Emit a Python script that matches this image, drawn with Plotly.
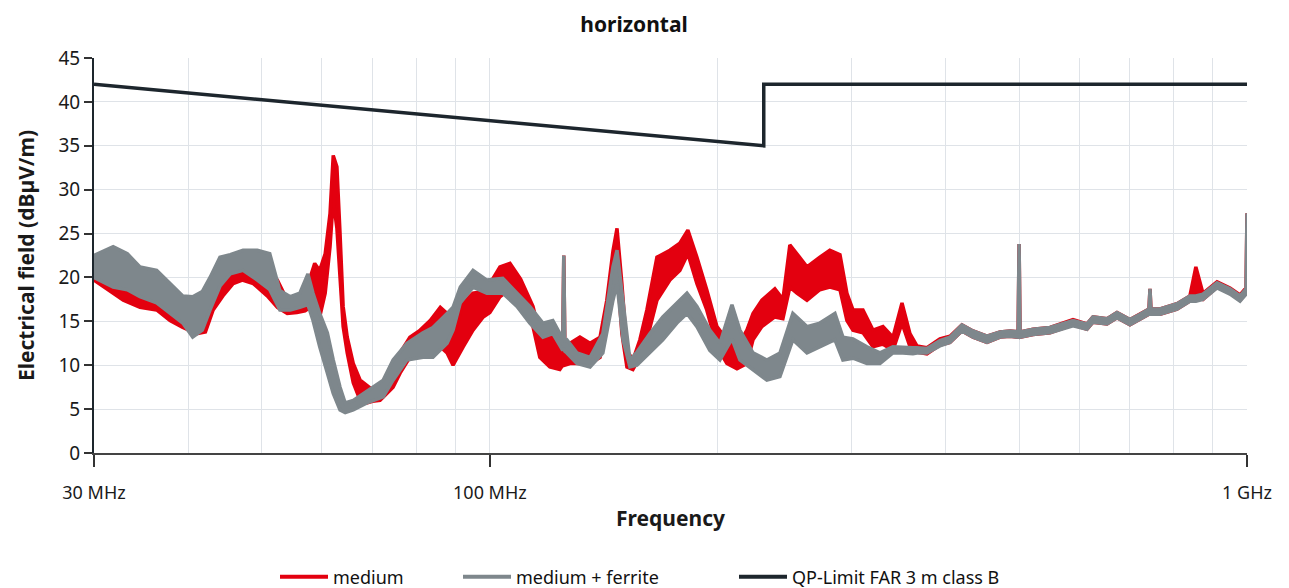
import plotly.graph_objects as go
import math

# ---------------- data (MHz, dBµV/m) ----------------
# "medium" (red) envelope
med_f = [30.0, 31.5, 32.8, 34.5, 36.3, 37.8, 39.3, 41.0, 42.1, 43.1, 44.4, 45.8, 47.1, 48.7,
         50.8, 52.4, 54.0, 55.6, 57.0, 57.9, 58.7, 59.6, 60.6, 61.5, 62.1, 62.8, 63.4, 64.0,
         64.8, 66.0, 67.4, 68.8, 70.0, 71.6, 74.5, 76.1, 78.4, 80.9, 83.4, 86.0, 87.8, 89.4,
         92.2, 95.0, 98.0, 100.0, 103.1, 106.3, 109.8, 114.0, 116.4, 120.0, 123.7, 124.8,
         125.2, 125.6, 127.6, 131.5, 135.6, 139.8, 142.7, 145.4, 147.2, 149.4, 151.7, 154.5,
         157.8, 161.2, 166.2, 172.9, 178.2, 182.6, 187.7, 193.4, 199.5, 205.6, 212.0, 218.5,
         222.6, 228.7, 237.9, 243.8, 249.0, 254.4, 262.3, 272.8, 281.2, 290.0, 296.2, 301.7,
         311.0, 320.6, 330.5, 340.7, 350.2, 358.8, 366.5, 377.8, 393.0, 405.2, 420.2, 434.6,
         453.5, 471.9, 486.5, 498.5, 500.0, 501.5, 521.7, 549.3, 589.1, 614.7, 626.0, 653.3,
         673.4, 700.5, 722.2, 742.2, 744.5, 746.7, 767.6, 808.4, 840.6, 856.0, 874.6, 912.9,
         949.6, 979.0, 997.0, 1000.0]
med_hi = [22.3, 20.8, 19.7, 18.9, 19.3, 18.5, 17.4, 16.3, 17.0, 18.9, 20.2, 20.8, 21.2, 21.0,
          20.2, 19.7, 17.4, 17.0, 17.3, 20.0, 21.6, 20.8, 22.7, 27.3, 33.9, 32.6, 25.0, 16.7,
          13.2, 10.2, 8.3, 7.7, 7.2, 7.7, 9.8, 11.4, 13.2, 14.0, 15.1, 16.6, 15.9, 13.0,
          17.1, 18.2, 18.4, 19.3, 21.2, 21.6, 19.8, 16.7, 13.6, 13.2, 13.2, 12.5,
          22.5, 12.5, 12.5, 13.2, 12.5, 13.2, 17.4, 23.0, 25.6, 19.3, 11.7, 10.6,
          12.9, 16.3, 22.3, 23.1, 23.9, 25.4, 22.3, 18.6, 14.4, 12.9, 12.0, 14.0,
          15.9, 17.4, 18.7, 17.5, 23.7, 22.7, 21.2, 22.3, 23.1, 22.6, 18.2, 16.3,
          16.3, 14.0, 14.4, 13.2, 17.1, 13.6, 12.2, 12.0, 13.0, 13.3, 14.6, 13.9,
          13.3, 13.8, 13.9, 13.8, 23.8, 13.8, 14.1, 14.3, 15.2, 14.7, 15.5, 15.3,
          16.0, 15.2, 15.8, 16.4, 18.7, 16.4, 16.4, 17.0, 17.9, 21.2, 18.2, 19.5,
          18.8, 18.0, 18.8, 27.3]
med_lo = [19.7, 18.5, 17.4, 16.6, 16.3, 15.1, 14.3, 13.6, 13.8, 16.3, 17.9, 19.3, 19.7, 19.3,
          17.9, 16.6, 15.9, 16.0, 16.2, 16.6, 17.9, 15.5, 18.2, 23.5, 28.8, 25.6, 19.7, 14.4,
          11.4, 8.0, 6.0, 5.7, 5.9, 6.0, 7.5, 9.1, 10.9, 11.1, 11.7, 12.1, 11.4, 10.0,
          12.1, 14.0, 15.5, 16.0, 17.8, 18.7, 16.8, 14.4, 10.9, 9.8, 9.5, 10.0,
          12.0, 10.0, 10.2, 10.2, 10.2, 10.9, 14.4, 18.5, 21.2, 13.6, 9.8, 9.5,
          10.9, 12.9, 17.4, 19.7, 20.8, 22.7, 19.3, 16.3, 12.1, 10.2, 9.6, 10.2,
          12.9, 14.4, 15.5, 15.3, 18.9, 18.2, 17.4, 18.6, 18.9, 18.6, 15.1, 14.0,
          13.7, 12.1, 12.4, 11.7, 14.8, 12.1, 11.5, 11.3, 12.3, 12.6, 13.9, 13.2,
          12.6, 13.2, 13.3, 13.2, 13.5, 13.2, 13.5, 13.7, 14.6, 14.1, 14.9, 14.7,
          15.4, 14.6, 15.2, 15.8, 16.0, 15.8, 15.8, 16.4, 17.3, 17.8, 17.5, 18.9,
          18.2, 17.4, 18.2, 18.5]

# "medium + ferrite" (grey) envelope
fer_f = [30.0, 31.8, 33.2, 34.5, 36.3, 37.8, 39.3, 40.5, 41.7, 42.7, 44.0, 45.4, 47.2, 49.3,
         51.2, 52.8, 54.5, 56.1, 57.5, 58.4, 59.6, 61.0, 62.1, 63.4, 64.4, 66.0, 68.8, 72.3,
         74.5, 77.7, 81.6, 84.1, 87.8, 89.4, 91.4, 95.0, 99.1, 104.0, 108.6, 112.9, 117.5,
         121.1, 124.8, 125.2, 125.6, 126.4, 130.3, 135.6, 141.0, 145.4, 147.2, 149.9, 153.1,
         156.4, 162.7, 169.2, 176.6, 182.1, 187.7, 195.2, 201.3, 208.8, 213.9, 222.6, 232.2,
         241.6, 251.3, 262.3, 272.8, 285.6, 292.6, 301.7, 314.8, 327.5, 340.7, 351.2, 362.0,
         366.5, 377.8, 393.0, 405.2, 420.2, 434.6, 453.5, 471.9, 486.5, 498.5, 500.0, 501.5,
         521.7, 549.3, 589.1, 614.7, 626.0, 653.3, 673.4, 700.5, 722.2, 742.2, 744.5, 746.7,
         767.6, 808.4, 840.6, 856.0, 874.6, 912.9, 949.6, 979.0, 997.0, 1000.0]
fer_hi = [22.5, 23.5, 22.7, 21.2, 20.8, 19.3, 17.9, 17.8, 18.4, 20.0, 22.3, 22.6, 23.1, 23.1,
          22.7, 18.5, 17.8, 18.2, 20.4, 18.2, 15.9, 13.7, 10.6, 7.5, 5.7, 6.0, 7.0, 8.3,
          10.6, 12.5, 13.7, 14.3, 15.9, 16.6, 18.9, 20.8, 19.7, 19.9, 18.2, 16.7, 14.8,
          15.1, 13.0, 22.5, 12.8, 12.9, 11.4, 10.9, 13.6, 21.2, 23.1, 17.4, 10.6,
          11.5, 13.6, 15.5, 17.1, 18.2, 16.7, 14.0, 12.5, 16.9, 14.0, 11.4, 10.6,
          11.4, 15.9, 14.4, 14.8, 15.9, 13.2, 13.0, 12.1, 11.4, 12.1, 12.0, 12.0,
          12.0, 11.9, 12.8, 13.2, 14.6, 13.9, 13.3, 13.8, 13.9, 13.8, 23.8, 13.8,
          14.1, 14.3, 15.1, 14.7, 15.5, 15.3, 16.0, 15.2, 15.8, 16.4, 18.7, 16.4,
          16.4, 17.0, 17.9, 17.9, 18.1, 19.4, 18.7, 17.9, 18.7, 27.3]
fer_lo = [20.0, 18.9, 18.6, 17.8, 17.1, 15.9, 14.8, 13.2, 14.0, 16.3, 19.0, 20.4, 20.8, 19.7,
          18.6, 16.3, 16.3, 16.6, 16.9, 15.1, 12.1, 9.1, 6.8, 4.9, 4.6, 4.9, 5.7, 6.4,
          8.3, 10.6, 10.9, 10.9, 12.5, 14.0, 17.1, 18.9, 18.2, 18.2, 16.7, 14.8, 13.2,
          13.6, 11.7, 12.0, 11.6, 11.4, 10.2, 9.8, 11.4, 17.4, 19.3, 12.9, 9.8,
          10.0, 11.4, 12.9, 14.8, 15.9, 14.4, 11.7, 10.6, 13.0, 10.6, 9.5, 8.3,
          8.7, 12.9, 11.4, 12.1, 12.9, 10.6, 10.8, 10.2, 10.2, 11.4, 11.4, 11.3,
          11.4, 11.4, 12.2, 12.6, 13.9, 13.2, 12.6, 13.2, 13.3, 13.2, 13.5, 13.2,
          13.5, 13.7, 14.5, 14.1, 14.9, 14.7, 15.4, 14.6, 15.2, 15.8, 16.0, 15.8,
          15.8, 16.4, 17.3, 17.3, 17.5, 18.8, 18.1, 17.3, 18.1, 18.5]

# QP limit FAR 3 m class B
lim_f = [30, 230, 230, 1000]
lim_v = [42, 35, 42, 42]

x_ticks = [30, 100, 1000]
x_tick_text = ["30 MHz", "100 MHz", "1 GHz"]
x_minor = [40, 50, 60, 70, 80, 90, 200, 300, 400, 500, 600, 700, 800, 900]

series_names = ["medium", "medium + ferrite", "QP-Limit FAR 3 m class B"]

RED = "#e3000f"
GREY = "#7e878c"
DARK = "#1d262d"
GRID = "#dfe3e8"
FONT = "Noto Sans"

W, H = 1289, 588
OFF = 8  # page body margin offset

fig = go.Figure()

def band(f, lo, hi, color, name):
    fig.add_trace(go.Scatter(x=f, y=lo, mode="lines", line=dict(color=color, width=3.5),
                             showlegend=False, hoverinfo="skip", name=name))
    fig.add_trace(go.Scatter(x=f, y=hi, mode="lines", line=dict(color=color, width=3.5),
                             fill="tonexty", fillcolor=color, showlegend=False,
                             hoverinfo="skip", name=name))

band(med_f, med_lo, med_hi, RED, "medium")
band(fer_f, fer_lo, fer_hi, GREY, "medium + ferrite")

fig.add_trace(go.Scatter(x=lim_f, y=lim_v, mode="lines", line=dict(color=DARK, width=3.5),
                         showlegend=False, name=series_names[2]))

# legend entries: one legend per item so spacing can follow the reference
leg_ids = ["legend", "legend2", "legend3"]
leg_left = [283, 466, 742]  # left edge of each legend symbol in the reference (px)
for nm, col, lid in zip(series_names, [RED, GREY, DARK], leg_ids):
    fig.add_trace(go.Scatter(x=[None], y=[None], mode="lines", name=nm, legend=lid,
                             line=dict(color=col, width=4)))

leg_common = dict(orientation="h", xref="container", xanchor="left",
                  yref="container", y=1 - (577 - OFF) / H, yanchor="middle",
                  font=dict(size=18, family=FONT, color="#111"), itemwidth=48,
                  bgcolor="rgba(0,0,0,0)", borderwidth=0)

layout_legs = {}
for lid, lx in zip(leg_ids, leg_left):
    layout_legs[lid] = dict(leg_common, x=(lx - OFF - 8) / W)

fig.update_layout(
    width=W, height=H,
    margin=dict(l=94 - OFF, r=42 + OFF, t=58 - OFF, b=135 + OFF),
    paper_bgcolor="white", plot_bgcolor="white",
    font=dict(family=FONT, color="#1a1a1a", size=18),
    title=dict(text="<b>horizontal</b>", x=(634 - OFF) / W, xref="container", xanchor="center",
               y=1 - (25 - OFF) / H, yref="container", yanchor="middle",
               font=dict(size=21, family=FONT, color="#111")),
    showlegend=True,
    **layout_legs,
)

fig.update_xaxes(type="log", range=[math.log10(30), math.log10(1000)],
                 tickvals=x_ticks, ticktext=x_tick_text,
                 ticks="outside", ticklen=12, tickwidth=1.5, tickcolor="#333",
                 ticklabelstandoff=11,
                 showline=True, linecolor="#444", linewidth=1.5,
                 showgrid=True, gridcolor=GRID, gridwidth=1,
                 minor=dict(tickvals=x_minor, showgrid=True, gridcolor=GRID, gridwidth=1, ticks=""),
                 tickfont=dict(size=18),
                 title=dict(text="<b>Frequency</b>", font=dict(size=21), standoff=8),
                 zeroline=False)

fig.update_yaxes(range=[0, 45], dtick=5, tick0=0,
                 ticks="outside", ticklen=8, tickwidth=1.5, tickcolor="#333",
                 showline=True, linecolor=DARK, linewidth=2,
                 showgrid=True, gridcolor=GRID, gridwidth=1.2,
                 tickfont=dict(size=19),
                 title=dict(text="<b>Electrical field (dBµV/m)</b>", font=dict(size=21), standoff=18),
                 zeroline=False)

fig.write_html("out.html")
